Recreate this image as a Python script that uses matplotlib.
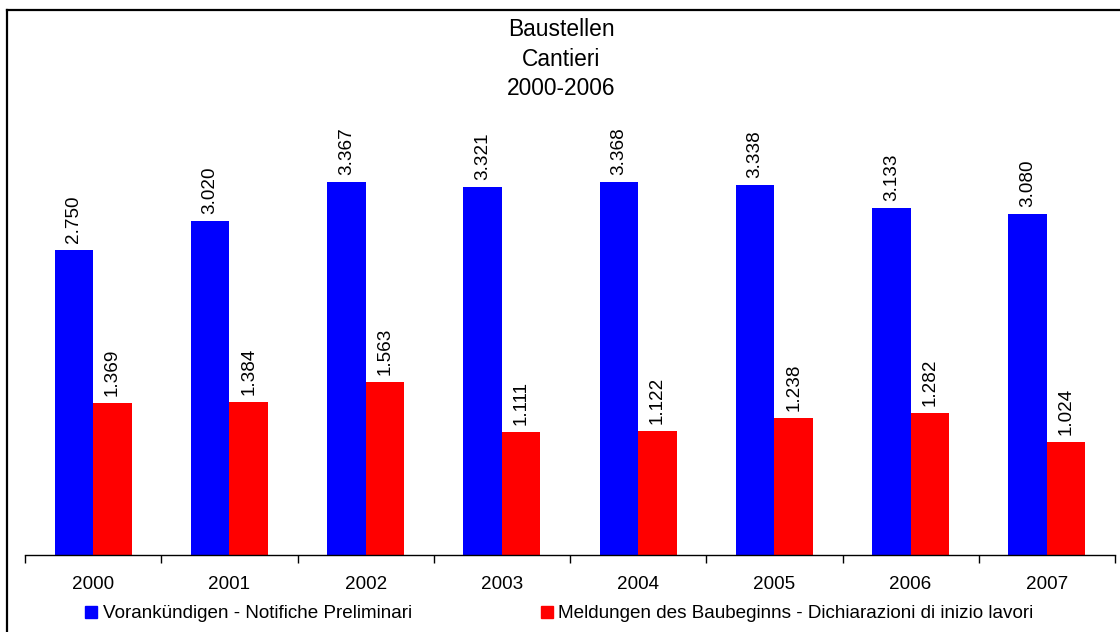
import numpy as np
import matplotlib
matplotlib.use("Agg")
import matplotlib.pyplot as plt
from matplotlib.patches import Patch
from matplotlib.lines import Line2D

plt.rcParams['font.family'] = ['Liberation Sans', 'DejaVu Sans']

# data
years = ['2000', '2001', '2002', '2003', '2004', '2005', '2006', '2007']
vorank = [2750, 3020, 3367, 3321, 3368, 3338, 3133, 3080]
meldungen = [1369, 1384, 1563, 1111, 1122, 1238, 1282, 1024]
labels = ['Vorankündigen - Notifiche Preliminari',
          'Meldungen des Baubeginns - Dichiarazioni di inizio lavori']
title = 'Baustellen\nCantieri\n2000-2006'

W, H = 1120, 632
dpi = 100
fs = 13.6
fig = plt.figure(figsize=(W / dpi, H / dpi), dpi=dpi)
ax = fig.add_axes([25 / W, 1 - 555 / H, (1115 - 25) / W, (555 - 112) / H])

x = np.arange(len(years))
bw = 0.2826
b1 = ax.bar(x - bw, vorank, width=bw, align='edge', color='#0000ff')
b2 = ax.bar(x, meldungen, width=bw, align='edge', color='#ff0000')

def fmt(v):
    # german style thousands separator
    return '{:,}'.format(v).replace(',', '.')

for bars, vals in [(b1, vorank), (b2, meldungen)]:
    for r, v in zip(bars, vals):
        ax.annotate(fmt(v), (r.get_x() + r.get_width() / 2, v),
                    xytext=(0, 5), textcoords='offset points',
                    rotation=90, ha='center', va='bottom', fontsize=fs)

ax.set_xlim(-0.5, len(years) - 0.5)
ax.set_ylim(0, 4000)
for s in ['top', 'right', 'left']:
    ax.spines[s].set_visible(False)
ax.spines['bottom'].set_linewidth(1.0)
ax.set_yticks([])
ax.set_xticks(x)
ax.set_xticklabels(years, fontsize=fs)
ax.tick_params(axis='x', which='major', length=0, pad=15)
ax.set_xticks(np.arange(len(years) + 1) - 0.5, minor=True)
ax.tick_params(axis='x', which='minor', length=6, width=1.0, direction='out')

fig.text(561 / W, 1 - 18 / H, title, ha='center', va='top', fontsize=16.4,
         linespacing=1.37)

handles = [Patch(color='#0000ff'), Patch(color='#ff0000')]
fig.legend(handles, labels, loc='center left',
           bbox_to_anchor=(85 / W, 1 - 614 / H), ncol=2, frameon=False,
           fontsize=fs, handlelength=0.65, handleheight=0.65,
           handletextpad=0.3, columnspacing=6.8, borderpad=0, borderaxespad=0)

# frame lines around chart area (right and bottom are cut off)
fig.add_artist(Line2D([7 / W, 7 / W], [0, 1 - 10 / H], color='black', lw=1.6,
                      transform=fig.transFigure))
fig.add_artist(Line2D([7 / W, 1], [1 - 10 / H, 1 - 10 / H], color='black',
                      lw=1.6, transform=fig.transFigure))

fig.savefig('out.png', dpi=dpi)
